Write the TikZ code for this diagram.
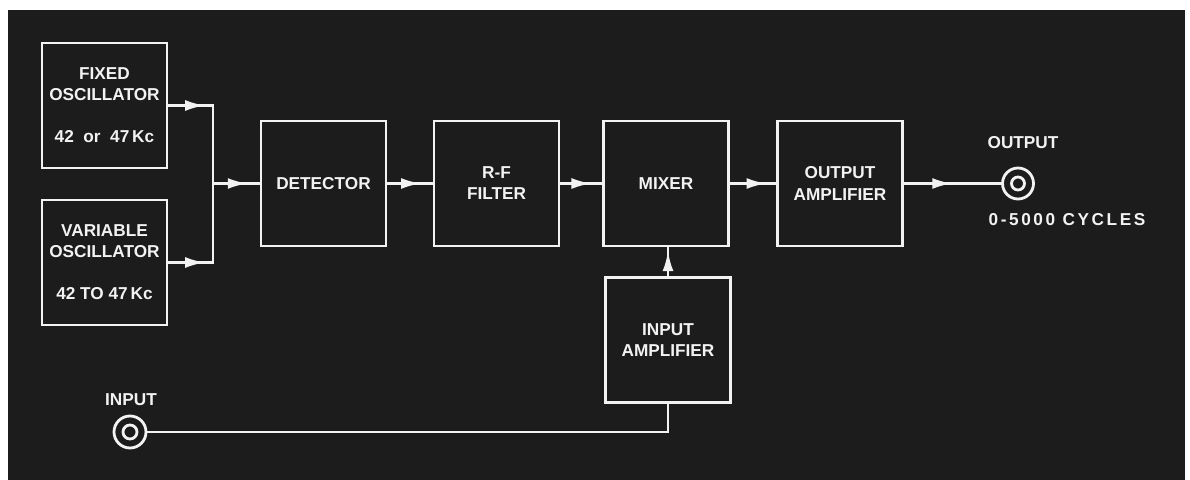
\documentclass[tikz,border=0pt]{standalone}
\usepackage{fontspec}
\setmainfont{Liberation Sans}
\newfontfamily\spacedfont[LetterSpace=15]{Liberation Sans}
\usetikzlibrary{arrows.meta,decorations.markings}
\definecolor{panel}{HTML}{1C1C1C}
\definecolor{ink}{HTML}{F2F2F2}
\begin{document}
\begin{tikzpicture}[
    x=0.02cm,y=-0.02cm,
    box/.style={draw=ink,line width=1.6pt,minimum width=2.5cm,minimum height=2.5cm,align=center,text=ink,inner sep=2pt,font=\bfseries\fontsize{9.8}{12}\selectfont},
    wire/.style={ink,line width=1.6pt,line cap=rect},
    flow/.style={wire,postaction={decorate},decoration={markings,mark=at position #1 with {\arrow{Latex[length=11.5pt,width=6.2pt]}}}},
    jack/.style={circle,draw=ink,line width=1.6pt,minimum size=#1,inner sep=0pt},
    lbl/.style={text=ink,font=\bfseries\fontsize{9.8}{12}\selectfont}
]
\fill[white] (0,0) rectangle (1190,480);
\fill[panel] (8,10) rectangle (1185,480);

\node[box] (fixed) at (104.5,105.5) {FIXED\\OSCILLATOR\\[12pt]42\ \ or\ \ 47\,Kc};
\node[box] (variable) at (104.5,262.5) {VARIABLE\\OSCILLATOR\\[12pt]42\ TO\ 47\,Kc};
\node[box] (detector) at (323.5,183.5) {DETECTOR};
\node[box] (filter) at (496.5,183.5) {R-F\\FILTER};
\node[box] (mixer) at (666,183.5) {MIXER};
\node[box] (outamp) at (840,183.5) {OUTPUT\\AMPLIFIER};
\node[box] (inamp) at (668,340) {INPUT\\AMPLIFIER};

\node[jack=0.62cm] (outjack) at (1018,183.5) {};
\node[jack=0.26cm] (outcore) at (outjack) {};
\node[jack=0.64cm] (injack) at (130,432) {};
\node[jack=0.28cm] (incore) at (injack) {};

\node[lbl] (outlbl) at (1023,143) {OUTPUT};
\node[lbl,font=\spacedfont\bfseries\fontsize{9.8}{12}\selectfont] (cycles) at (1067,220) {0-5000 CYCLES};
\node[lbl] (inlbl) at (131,400) {INPUT};

\coordinate (bus) at (213,183.5);
\draw[flow=0.83] (fixed.east) -- (fixed.east -| bus);
\draw[flow=0.83] (variable.east) -- (variable.east -| bus);
\draw[wire] (fixed.east -| bus) -- (variable.east -| bus);
\draw[flow=0.75] (bus) -- (detector.west);
\draw[flow=0.75] (detector) -- (filter);
\draw[flow=0.75] (filter) -- (mixer);
\draw[flow=0.8] (mixer) -- (outamp);
\draw[flow=0.5] (outamp) -- (outjack);
\draw[flow=0.88] (inamp.north) -- (inamp.north |- mixer.south);
\draw[wire] (inamp.south) |- (injack.east);
\end{tikzpicture}
\end{document}
